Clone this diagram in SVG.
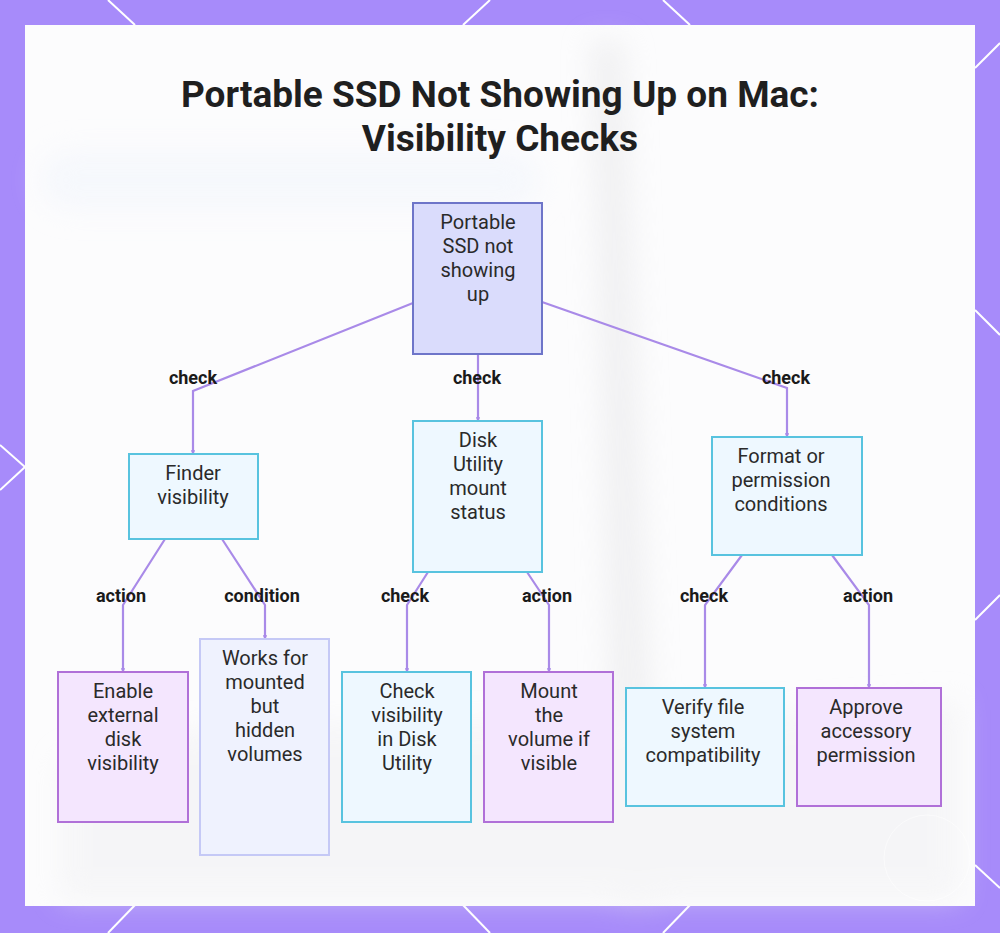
<svg xmlns="http://www.w3.org/2000/svg" width="1000" height="933" viewBox="0 0 1000 933">
<defs>
<style>
.bgline{stroke:#ffffff;stroke-width:2;fill:none}
.title{font-family:Roboto,"Liberation Sans",sans-serif;font-weight:700;font-size:37px;fill:#1f1f1f;text-anchor:middle}
.nt{font-family:Roboto,"Liberation Sans",sans-serif;font-size:20px;fill:#2a2a2a;text-anchor:middle}
.lbl{font-family:Roboto,"Liberation Sans",sans-serif;font-weight:700;font-size:18px;fill:#1a1a1a;text-anchor:middle}
.conn{stroke:#A98AE8;stroke-width:2.2;fill:none;marker-end:url(#tip)}
.root{fill:#DADCFC;stroke:#6E75C9;stroke-width:2}
.cyan{fill:#EEF8FF;stroke:#58C3DF;stroke-width:2}
.purp{fill:#F4E6FE;stroke:#B070D8;stroke-width:2}
.lite{fill:#EFF2FE;stroke:#C5C9F6;stroke-width:2}
</style>
<marker id="tip" viewBox="0 0 6 6" refX="5" refY="3" markerWidth="2" markerHeight="2" orient="auto">
<path d="M0,0 L6,3 L0,6 z" fill="#A98AE8"/>
</marker>
<filter id="blur" x="-50%" y="-50%" width="200%" height="200%"><feGaussianBlur stdDeviation="14"/></filter>
</defs>
<rect x="0" y="0" width="1000" height="933" fill="#A78BFA"/>
<g id="border-lines">
<line class="bgline" x1="108" y1="0" x2="135" y2="25"/>
<line class="bgline" x1="490" y1="0" x2="463" y2="25"/>
<line class="bgline" x1="663" y1="0" x2="690" y2="25"/>
<line class="bgline" x1="975" y1="68" x2="1000" y2="43"/>
<line class="bgline" x1="975" y1="310" x2="1000" y2="335"/>
<line class="bgline" x1="975" y1="620" x2="1000" y2="595"/>
<line class="bgline" x1="975" y1="865" x2="1000" y2="888"/>
<line class="bgline" x1="0" y1="445" x2="25" y2="467"/>
<line class="bgline" x1="0" y1="490" x2="25" y2="467"/>
<line class="bgline" x1="135" y1="905" x2="108" y2="933"/>
<line class="bgline" x1="463" y1="905" x2="490" y2="933"/>
<line class="bgline" x1="690" y1="905" x2="663" y2="933"/>
</g>
<rect x="25" y="25" width="950" height="881" fill="#FCFCFD"/>
<g id="backdrop" filter="url(#blur)" opacity="0.5">
<path d="M590,40 L625,40 L660,905 L615,905 Z" fill="#E6E6E8"/>
<path d="M60,760 C200,700 500,740 960,700 L960,900 L60,900 Z" fill="#F0F0F2"/>
<rect x="40" y="150" width="500" height="60" rx="30" fill="#F0F4FC"/>
</g>
<circle cx="927" cy="858" r="43" fill="none" stroke="#ffffff" stroke-width="1" opacity="0.5"/>
<text class="title" x="500" y="107">Portable SSD Not Showing Up on Mac:</text>
<text class="title" x="500" y="151">Visibility Checks</text>
<g id="connectors">
<polyline class="conn" points="413,303 193,391 193,454"/>
<line class="conn" x1="478" y1="354" x2="478" y2="421"/>
<polyline class="conn" points="542,302 787,388 787,437"/>
<polyline class="conn" points="165,539 123,605 123,672"/>
<polyline class="conn" points="222,539 265,605 265,639"/>
<polyline class="conn" points="428,572 407,605 407,672"/>
<polyline class="conn" points="527,572 549,605 549,672"/>
<polyline class="conn" points="742,555 705,605 705,688"/>
<polyline class="conn" points="832,555 869,605 869,688"/>
<text class="lbl" x="193" y="384">check</text>
<text class="lbl" x="477" y="384">check</text>
<text class="lbl" x="786" y="384">check</text>
<text class="lbl" x="121" y="602">action</text>
<text class="lbl" x="262" y="602">condition</text>
<text class="lbl" x="405" y="602">check</text>
<text class="lbl" x="547" y="602">action</text>
<text class="lbl" x="704" y="602">check</text>
<text class="lbl" x="868" y="602">action</text>
</g>
<g id="root">
<rect class="root" x="413" y="203" width="129" height="151"/>
<text class="nt" x="478" y="229">Portable</text>
<text class="nt" x="478" y="253">SSD not</text>
<text class="nt" x="478" y="277">showing</text>
<text class="nt" x="478" y="301">up</text>
</g>
<g id="finder">
<rect class="cyan" x="129" y="454" width="129" height="85"/>
<text class="nt" x="193" y="480">Finder</text>
<text class="nt" x="193" y="504">visibility</text>
</g>
<g id="diskutil">
<rect class="cyan" x="413" y="421" width="129" height="151"/>
<text class="nt" x="478" y="447">Disk</text>
<text class="nt" x="478" y="471">Utility</text>
<text class="nt" x="478" y="495">mount</text>
<text class="nt" x="478" y="519">status</text>
</g>
<g id="format">
<rect class="cyan" x="712" y="437" width="150" height="118"/>
<text class="nt" x="781" y="463">Format or</text>
<text class="nt" x="781" y="487">permission</text>
<text class="nt" x="781" y="511">conditions</text>
</g>
<g id="enable">
<rect class="purp" x="58" y="672" width="130" height="150"/>
<text class="nt" x="123" y="698">Enable</text>
<text class="nt" x="123" y="722">external</text>
<text class="nt" x="123" y="746">disk</text>
<text class="nt" x="123" y="770">visibility</text>
</g>
<g id="works">
<rect class="lite" x="200" y="639" width="129" height="216"/>
<text class="nt" x="265" y="665">Works for</text>
<text class="nt" x="265" y="689">mounted</text>
<text class="nt" x="265" y="713">but</text>
<text class="nt" x="265" y="737">hidden</text>
<text class="nt" x="265" y="761">volumes</text>
</g>
<g id="checkvis">
<rect class="cyan" x="342" y="672" width="129" height="150"/>
<text class="nt" x="407" y="698">Check</text>
<text class="nt" x="407" y="722">visibility</text>
<text class="nt" x="407" y="746">in Disk</text>
<text class="nt" x="407" y="770">Utility</text>
</g>
<g id="mount">
<rect class="purp" x="484" y="672" width="129" height="150"/>
<text class="nt" x="549" y="698">Mount</text>
<text class="nt" x="549" y="722">the</text>
<text class="nt" x="549" y="746">volume if</text>
<text class="nt" x="549" y="770">visible</text>
</g>
<g id="verify">
<rect class="cyan" x="626" y="688" width="158" height="118"/>
<text class="nt" x="703" y="714">Verify file</text>
<text class="nt" x="703" y="738">system</text>
<text class="nt" x="703" y="762">compatibility</text>
</g>
<g id="approve">
<rect class="purp" x="797" y="688" width="144" height="118"/>
<text class="nt" x="866" y="714">Approve</text>
<text class="nt" x="866" y="738">accessory</text>
<text class="nt" x="866" y="762">permission</text>
</g>
</svg>
